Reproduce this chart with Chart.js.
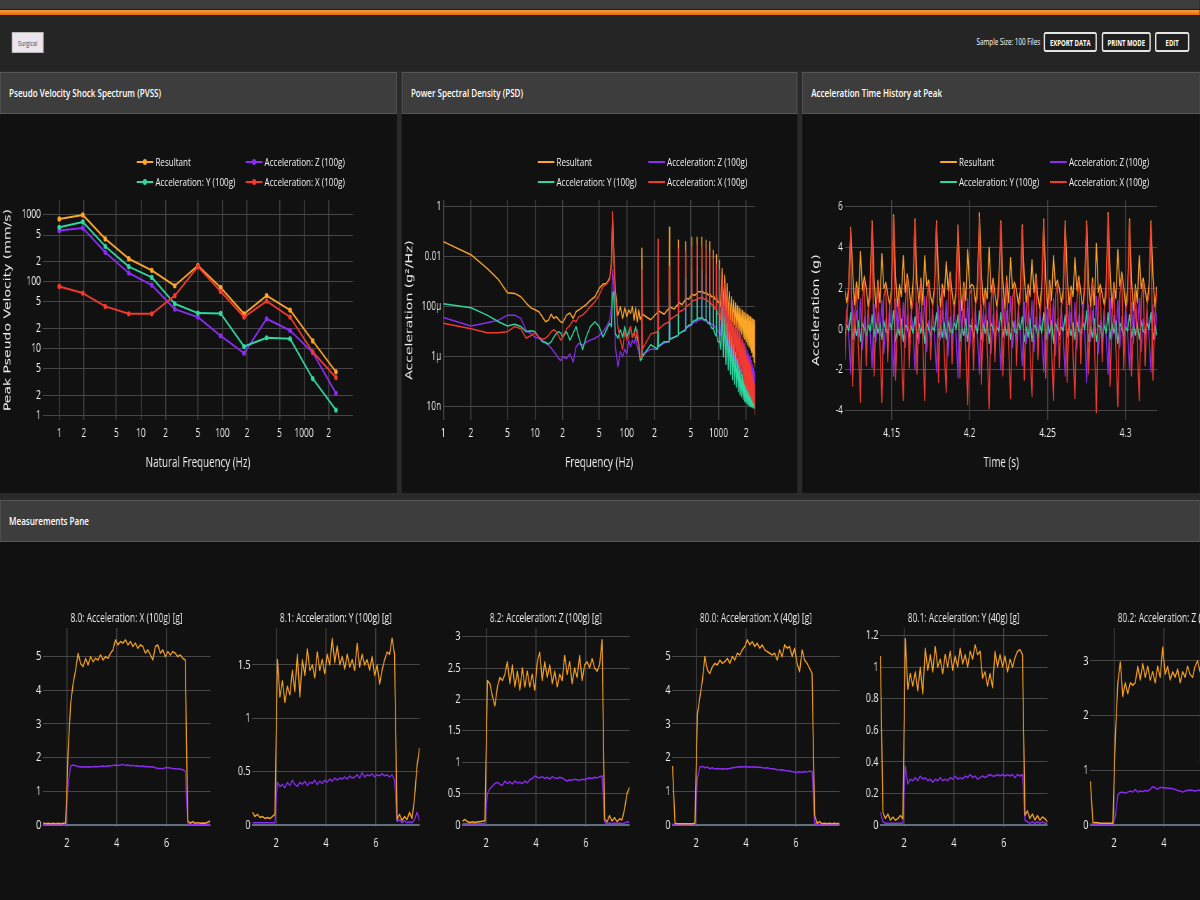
<!DOCTYPE html>
<html><head><meta charset="utf-8">
<script src="https://cdn.jsdelivr.net/npm/chart.js@4.4.1/dist/chart.umd.min.js"></script>
<style>
html,body{margin:0;padding:0;width:1200px;height:900px;overflow:hidden;background:#2a2a2a;}
#wrap{position:absolute;left:0;top:0;width:1714px;height:900px;transform:scaleX(0.7);transform-origin:0 0;overflow:hidden;background:#2a2a2a;font-family:'Open Sans',sans-serif;color:#fff;}
.a{position:absolute;}
.ph{position:absolute;top:72px;height:42px;background:#3d3d3d;border:1px solid #575757;box-sizing:border-box;font-size:11.5px;font-weight:600;line-height:40px;padding-left:12px;white-space:nowrap;}
.pb{position:absolute;top:114px;height:379px;background:#111;}
.btn{position:absolute;top:32px;height:20px;border:2px solid #e4e4e4;border-radius:3px;box-sizing:border-box;background:#1f1f1f;color:#fff;font-size:8.5px;font-weight:700;display:flex;align-items:center;justify-content:center;}
.lg{position:absolute;height:2px;width:24px;}
.lt{position:absolute;font-size:11.5px;color:#f2f2f2;white-space:nowrap;line-height:16px;}
.dot{position:absolute;width:6px;height:6px;border-radius:50%;left:9px;top:-2px;}
canvas{position:absolute;}
</style></head>
<body><div id="wrap">
<div class="a" style="left:0;top:0;width:1714px;height:9px;background:#3c3c3c"></div>
<div class="a" style="left:0;top:9px;width:1714px;height:1px;background:#1a1a1a"></div>
<div class="a" style="left:0;top:10px;width:1714px;height:5px;background:linear-gradient(#f6a040,#e2690f)"></div>
<div class="a" style="left:0;top:15px;width:1714px;height:56px;background:#252525"></div>
<div class="a" style="left:17px;top:32px;width:45px;height:21px;background:#ece5ee;border:1px solid #b9b9b9;box-sizing:border-box;color:#444;font-size:7.5px;display:flex;align-items:center;justify-content:center">Surgical</div>
<div class="a" style="right:228px;top:32px;height:20px;line-height:20px;font-size:9px;color:#fff;white-space:nowrap">Sample Size: 100 Files</div>
<div class="btn" style="left:1491px;width:76px">EXPORT DATA</div>
<div class="btn" style="left:1574px;width:70px">PRINT MODE</div>
<div class="btn" style="left:1650px;width:49px">EDIT</div>

<div class="ph" style="left:0;width:567px">Pseudo Velocity Shock Spectrum (PVSS)</div>
<div class="ph" style="left:574px;width:565px">Power Spectral Density (PSD)</div>
<div class="ph" style="left:1146px;width:568px">Acceleration Time History at Peak</div>
<div class="pb" id="b0" style="left:0;width:567px"><canvas id="c0" width="567" height="379" style="left:0;top:0"></canvas></div>
<div class="pb" id="b1" style="left:574px;width:565px"><canvas id="c1" width="565" height="379" style="left:0;top:0"></canvas></div>
<div class="pb" id="b2" style="left:1146px;width:568px"><canvas id="c2" width="568" height="379" style="left:0;top:0"></canvas></div>

<div class="ph" style="left:0;top:500px;width:1714px">Measurements Pane</div>
<div class="a" id="mb" style="left:0;top:542px;width:1714px;height:358px;background:#111"></div>
</div>
<script>
// ---------- DATA ----------
const seriesNames = ['Resultant', 'Acceleration: Z (100g)', 'Acceleration: Y (100g)', 'Acceleration: X (100g)'];
const seriesColors = ['#fda628', '#8c2cf5', '#2ed8a0', '#f23a2f'];

// PVSS
const pvssFreq = [1, 1.94, 3.66, 7.1, 13.6, 26, 50, 95, 184, 348, 674, 1278, 2460];
const pvssResultant = [871, 1000, 437, 221, 148, 87, 174, 82, 33, 62, 37.6, 13, 4.47];
const pvssZ = [582, 638, 275, 135, 89, 38.9, 29.5, 15.5, 8.5, 27.9, 18.6, 8.7, 2.14];
const pvssY = [653, 785, 339, 168, 116, 46.8, 33.9, 33.5, 10.7, 14.5, 14, 3.55, 1.2];
const pvssX = [85, 67.6, 42.7, 33.1, 33.1, 61.7, 168, 71.6, 29.5, 51.3, 29.5, 8.9, 3.67];
const logXTicks = [1, 2, 5, 10, 20, 50, 100, 200, 500, 1000, 2000];
const logXTickLabels = ['1', '2', '5', '10', '2', '5', '100', '2', '5', '1000', '2'];
const pvssYTicks = [1, 2, 5, 10, 20, 50, 100, 200, 500, 1000];
const pvssYTickLabels = ['1', '2', '5', '10', '2', '5', '100', '2', '5', '1000'];

// PSD
const psdFreq = [1,2,3,4,5,6,7,8,9,10,11,12,13,14,15,16,17,18,19,20,22,24,26,28,30,33,36,40,45,50,55,60,65,68,70,72,75,80,85,90,95,100,105,110,115,120,125,130,135,140,
144,146,148,182,217,219,221,255,290,292,294,328,363,365,367,401,436,438,440,474,509,511,513,547,582,584,586,620,655,657,659,693,728,730,732,766,801,803,805,839,874,876,878,912,947,949,951,985,1020,1022,1024,1058,
1095,1131,1168,1204,1241,1277,1314,1350,1387,1423,1460,1496,1533,1569,1606,1642,1679,1715,1752,1788,1825,1861,1898,1934,1971,2007,2044,2080,2117,2153,2190,2226,2263,2299,2336,2372,2409,2445,2482,2500];
const psdResultant = [4e-2,1.2e-2,3.4e-3,1.2e-3,3.6e-4,3.4e-4,2.5e-4,1.4e-4,9e-5,7.5e-5,6.3e-5,4e-5,2.5e-5,2.9e-5,5e-5,3.4e-5,4e-5,3.1e-5,2.5e-5,2.3e-5,4.6e-5,5.6e-5,3.4e-5,6.3e-5,7.5e-5,9.6e-5,1.2e-4,1.8e-4,2.5e-4,5.4e-4,8e-4,8.5e-4,1.4e-3,5.4e-3,0.6,1.8e-2,4.6e-4,4.6e-5,1e-4,3.4e-5,9e-5,4e-5,7.5e-5,5.4e-5,1e-4,2.9e-5,9e-5,2.5e-5,7.5e-5,3e-5,
4e-5,2.2e-2,5e-5,3e-5,6e-5,3e-4,7e-5,5e-5,9e-5,0.15,1e-4,8e-5,1.3e-4,4.5e-2,1.5e-4,1.2e-4,2e-4,4e-2,2.2e-4,2e-4,3e-4,6e-2,3.2e-4,2.8e-4,3.5e-4,6e-2,4e-4,4e-4,4e-4,6e-2,4.5e-4,3.5e-4,3.5e-4,4.5e-2,4e-4,3e-4,3e-4,4e-2,3.5e-4,2.5e-4,2.5e-4,1.8e-2,3e-4,2e-4,2e-4,1.2e-2,2.5e-4,1.5e-4,1.5e-4,7e-3,1.8e-4,1e-4,
3.4e-3,8e-5,1.8e-3,6e-5,8.5e-4,4e-5,4e-4,3e-5,2.5e-4,2.5e-5,1.8e-4,2e-5,1.4e-4,1.5e-5,1.1e-4,1.2e-5,9e-5,1e-5,8e-5,8e-6,7e-5,6e-6,6e-5,5e-6,5.5e-5,4e-6,5e-5,3e-6,4.5e-5,2.5e-6,4e-5,2e-6,3.6e-5,1.5e-6,3.3e-5,1e-6,3e-5,6e-7,2.8e-5,4e-7];
const psdZ = [3.7e-5,1.7e-5,2.3e-5,2.9e-5,4.6e-5,4.6e-5,3.4e-5,1.1e-5,8.5e-6,6e-6,5.5e-6,4.6e-6,3.4e-6,2.9e-6,2.2e-6,1.6e-6,1.2e-6,8.5e-7,7e-7,1e-6,8.5e-7,1.3e-6,6e-7,2.5e-6,3.4e-6,2.9e-6,3.8e-6,4.6e-6,5.5e-6,7e-6,1e-5,1.6e-5,2.9e-5,1e-4,3e-3,1e-3,2.5e-6,4e-7,1.6e-6,1e-6,2e-6,1.3e-6,4.6e-6,2.5e-6,4.6e-6,3.4e-6,5.5e-6,2.5e-6,1.6e-6,1e-6,
1e-6,3e-4,1.2e-6,2e-6,2e-6,1e-4,2.5e-6,3.5e-6,4e-6,2e-4,5e-6,6e-6,7e-6,1e-3,8e-6,1e-5,1.1e-5,8e-4,1.3e-5,1.6e-5,1.8e-5,1.5e-3,2e-5,2.4e-5,2.5e-5,2e-3,2.8e-5,3e-5,3e-5,2e-3,3.3e-5,2.8e-5,2.6e-5,1.5e-3,2.8e-5,2.4e-5,2.2e-5,1e-3,2.4e-5,2e-5,1.8e-5,6e-4,2e-5,1.5e-5,1.3e-5,4e-4,1.5e-5,1e-5,9e-6,2.5e-4,1e-5,7e-6,
1.5e-4,4e-6,1e-4,3e-6,7e-5,2e-6,5e-5,1.4e-6,3.5e-5,1e-6,2.5e-5,7e-7,1.8e-5,5e-7,1.3e-5,3.5e-7,1e-5,2.5e-7,7e-6,1.8e-7,5e-6,1.3e-7,3.5e-6,1e-7,2.5e-6,8e-8,1.8e-6,6e-8,1.3e-6,5e-8,1e-6,4e-8,7e-7,3.5e-8,5e-7,3e-8,3.5e-7,2.5e-8,2.5e-7,2e-8];
const psdY = [1.3e-4,9e-5,4.6e-5,2.5e-5,1.7e-5,2e-5,1.6e-5,1e-5,1.1e-5,1e-5,6e-6,4e-6,3.8e-6,3.2e-6,4e-6,6e-6,8.5e-6,1e-5,9e-6,6e-6,1e-5,4.6e-6,8.5e-6,1.6e-5,6e-6,1.9e-6,6e-6,1.6e-5,2.5e-5,1.6e-5,6e-6,1.2e-5,2.2e-5,1.6e-5,3e-4,4e-4,8.5e-6,5.5e-6,1.2e-5,6e-6,1.6e-5,6e-6,1e-5,1.6e-5,6e-6,8.5e-6,1.6e-5,5.5e-6,2.9e-6,7e-7,
8e-7,1e-3,1e-6,3e-6,2e-6,2e-4,2.5e-6,4e-6,4e-6,3e-4,5e-6,6e-6,7e-6,2e-3,8e-6,1e-5,1.2e-5,1.5e-3,1.4e-5,1.8e-5,2e-5,3e-3,2.3e-5,2.8e-5,3e-5,4e-3,3.3e-5,3.5e-5,3.5e-5,3e-3,4e-5,3e-5,3e-5,2e-3,3.2e-5,2.2e-5,2e-5,1.2e-3,2.2e-5,1.4e-5,1.3e-5,6e-4,1.4e-5,8e-6,7e-6,3e-4,8e-6,4e-6,4e-6,1.5e-4,4.5e-6,2e-6,
8e-5,1e-6,4e-5,5e-7,2e-5,3e-7,1e-5,2e-7,6e-6,1.2e-7,3e-6,8e-8,1.5e-6,6e-8,8e-7,4e-8,5e-7,3e-8,3e-7,2.5e-8,2e-7,2e-8,1.3e-7,1.6e-8,9e-8,1.4e-8,7e-8,1.2e-8,5e-8,1.1e-8,4e-8,1e-8,3e-8,1e-8,2.5e-8,9e-9,2e-8,9e-9,1.5e-8,8e-9];
const psdX = [2.2e-5,1.3e-5,9e-6,9e-6,1e-5,1.6e-5,1.3e-5,5.5e-6,7e-6,9e-6,6e-6,5e-6,5.5e-6,7e-6,1e-5,1.2e-5,1e-5,7e-6,4.6e-6,6e-6,1.3e-5,1.8e-5,2.9e-5,2.5e-5,4e-5,4.6e-5,6.3e-5,1e-4,1.6e-4,2.9e-4,6.3e-4,8e-4,1.2e-3,4e-3,0.63,7.4e-3,2.5e-4,1.6e-5,4.6e-6,1.9e-6,1e-5,4.6e-6,6e-6,1.6e-5,6e-6,1e-5,4.6e-6,1.2e-5,3.6e-6,1e-6,
1e-6,3e-3,2e-6,8e-6,1e-5,5e-2,1.2e-5,2e-5,2.5e-5,4e-3,3e-5,4e-5,5e-5,2e-2,6e-5,7e-5,9e-5,1.5e-2,1e-4,1.2e-4,1.4e-4,2.5e-2,1.6e-4,1.8e-4,2e-4,3e-2,2.2e-4,2.2e-4,2.4e-4,2.5e-2,2.6e-4,2e-4,2e-4,2e-2,2.2e-4,1.6e-4,1.6e-4,1.5e-2,1.8e-4,1.2e-4,1.2e-4,8e-3,1.3e-4,8e-5,8e-5,5e-3,9e-5,5e-5,5e-5,3e-3,6e-5,3e-5,
1.5e-3,1.5e-5,8e-4,8e-6,4e-4,5e-6,2e-4,3e-6,1e-4,2e-6,6e-5,1.2e-6,3e-5,8e-7,2e-5,5e-7,1.2e-5,3e-7,8e-6,2e-7,5e-6,1.2e-7,3e-6,8e-8,2e-6,5e-8,1.2e-6,4e-8,8e-7,3e-8,5e-7,2.5e-8,3e-7,2e-8,2e-7,1.5e-8,1.2e-7,1.2e-8,8e-8,5e-9];
const psdYTicks = [1e-8, 1e-6, 1e-4, 1e-2, 1];
const psdYTickLabels = ['10n', '1μ', '100μ', '0.01', '1'];

// Acceleration time history (sample clock + values)
const timeStart = 4.12, timeStep = 0.00125;
const timeResultant = [1.9,1.3,2.1,
5.0,2.8,1.2,2.3,1.5,3.8,1.9,2.6,2.0,1.1,2.2, 5.3,2.4,1.0,2.4,1.3,3.7,2.0,2.3,1.7,1.2,2.0, 5.6,2.6,1.1,2.2,1.6,3.6,1.8,2.7,2.0,1.0,2.3,
5.4,2.3,1.3,2.5,1.2,3.6,2.1,2.4,1.6,1.2,2.1, 5.3,2.7,1.1,2.2,1.6,3.3,1.9,2.8,1.8,1.0,2.0, 5.1,2.5,0.9,2.3,1.4,3.9,2.0,2.2,2.1,1.3,2.2,
5.7,2.8,1.2,2.0,1.5,4.0,1.8,2.5,1.7,1.1,2.4, 5.3,2.4,1.0,2.6,1.3,3.5,2.0,2.3,1.9,1.2,1.9, 5.1,2.6,1.3,2.2,1.6,3.4,1.8,2.7,1.6,1.0,2.2,
5.4,2.5,1.0,2.4,1.4,3.6,2.1,2.4,2.0,1.3,2.0, 5.3,2.7,1.2,2.1,1.6,3.5,1.9,2.6,1.8,1.0,2.3, 5.3,2.3,1.1,2.5,1.2,4.2,1.8,2.2,1.7,1.2,2.1,
5.7,2.9,1.0,2.3,1.5,3.9,2.1,2.8,2.1,1.1,1.9, 5.4,2.4,0.9,2.2,1.3,3.6,2.0,2.5,1.9,1.3,2.2, 5.3,2.6,1.1,2.1];
const timeZ = [-0.6,1.0,-0.3,
-2.2,1.4,-0.5,0.9,-0.4,1.5,-1.0,0.6,-0.7,1.0,-0.2, -1.9,1.2,-0.6,0.8,-0.3,1.4,-1.2,0.5,-0.6,1.1,-0.3, -2.3,1.5,-0.4,1.0,-0.5,1.3,-0.9,0.7,-0.8,0.9,-0.1,
-2.0,1.3,-0.7,0.8,-0.2,1.6,-1.1,0.4,-0.5,1.0,-0.3, -2.1,1.1,-0.5,0.9,-0.4,1.4,-1.3,0.6,-0.7,1.2,-0.2, -2.4,1.4,-0.3,1.0,-0.6,1.5,-1.0,0.5,-0.6,0.9,-0.4,
-2.2,1.2,-0.6,0.7,-0.3,1.3,-1.2,0.7,-0.8,1.0,-0.1, -2.0,1.5,-0.4,0.9,-0.5,1.6,-0.9,0.4,-0.6,1.1,-0.3, -1.8,1.3,-0.7,0.8,-0.2,1.4,-1.1,0.6,-0.7,0.9,-0.2,
-2.1,1.1,-0.5,1.0,-0.4,1.5,-1.3,0.5,-0.5,1.0,-0.4, -2.3,1.4,-0.3,0.8,-0.6,1.3,-1.0,0.7,-0.8,1.2,-0.1, -2.6,1.2,-0.6,0.9,-0.3,1.6,-1.2,0.4,-0.6,0.9,-0.3,
-2.2,1.5,-0.4,0.7,-0.5,1.4,-0.9,0.6,-0.7,1.1,-0.2, -2.0,1.3,-0.7,1.0,-0.2,1.5,-1.1,0.5,-0.5,1.0,-0.4, -2.1,1.2,-0.5,0.8];
const timeY = [-0.3,0.2,-0.1,
0.8,-0.5,0.2,-0.3,0.4,-0.6,0.3,0.0,-0.3,0.2,-0.1, 0.7,-0.4,0.3,-0.2,0.3,-0.5,0.4,-0.1,-0.2,0.3,0.0, 0.9,-0.6,0.1,-0.3,0.5,-0.6,0.2,0.1,-0.4,0.2,-0.2,
0.6,-0.5,0.3,-0.2,0.4,-0.7,0.3,0.0,-0.3,0.1,-0.1, 0.8,-0.4,0.2,-0.4,0.3,-0.5,0.4,-0.1,-0.2,0.3,0.0, 0.7,-0.6,0.1,-0.3,0.5,-0.6,0.2,0.1,-0.4,0.2,-0.2,
0.9,-0.5,0.3,-0.2,0.4,-0.7,0.3,0.0,-0.3,0.1,-0.1, 0.8,-0.4,0.2,-0.3,0.3,-0.5,0.4,-0.1,-0.2,0.3,0.0, 0.6,-0.6,0.1,-0.4,0.5,-0.6,0.2,0.1,-0.4,0.2,-0.2,
0.8,-0.5,0.3,-0.2,0.4,-0.7,0.3,0.0,-0.3,0.1,-0.1, 0.7,-0.4,0.2,-0.3,0.3,-0.5,0.4,-0.1,-0.2,0.3,0.0, 0.9,-0.6,0.1,-0.4,0.5,-0.6,0.2,0.1,-0.4,0.2,-0.2,
0.8,-0.5,0.3,-0.2,0.4,-0.7,0.3,0.0,-0.3,0.1,-0.1, 0.7,-0.4,0.2,-0.3,0.3,-0.5,0.4,-0.1,-0.2,0.3,0.0, 0.8,-0.5,0.2,-0.3];
const timeX = [-1.5,0.8,1.7,
4.9,-2.8,0.5,2.0,-1.0,-3.6,1.3,2.4,-1.8,0.9,1.5, 5.2,-2.3,0.7,2.2,-0.8,-3.6,1.6,2.1,-1.6,1.1,1.7, 5.5,-2.5,0.4,1.9,-1.1,-3.5,1.2,2.5,-1.9,0.7,1.4,
5.3,-2.2,0.8,2.3,-0.7,-3.5,1.5,2.2,-1.5,1.0,1.8, 5.2,-2.6,0.6,2.0,-1.2,-3.1,1.4,2.6,-1.7,0.8,1.6, 5.0,-2.4,0.3,2.1,-0.9,-3.7,1.7,2.0,-2.0,1.2,1.5,
5.5,-2.7,0.7,1.8,-1.0,-3.9,1.3,2.3,-1.6,0.9,1.9, 5.2,-2.3,0.5,2.4,-0.8,-3.4,1.5,2.1,-1.8,1.0,1.4, 5.0,-2.5,0.8,2.0,-1.1,-3.3,1.2,2.5,-1.5,0.7,1.7,
5.3,-2.4,0.4,2.2,-0.9,-3.5,1.6,2.2,-1.9,1.1,1.5, 5.2,-2.6,0.6,1.9,-1.2,-3.4,1.4,2.4,-1.7,0.8,1.8, 5.2,-2.2,0.7,2.3,-0.7,-4.1,1.3,2.0,-1.6,1.0,1.6,
5.6,-2.8,0.5,2.1,-1.0,-3.8,1.7,2.6,-2.0,0.9,1.4, 5.3,-2.3,0.3,2.0,-0.8,-3.5,1.5,2.3,-1.8,1.2,1.7, 5.2,-2.5,0.6,1.9];
const timeXTicks = [4.15, 4.2, 4.25, 4.3];
const timeYTicks = [-4, -2, 0, 2, 4, 6];

// Measurements pane
const measX = [1.05,1.15,1.25,1.35,1.45,1.55,1.65,1.75,1.85,1.95,2.05,2.15,2.25,2.35,2.45,2.55,2.65,2.75,2.85,2.95,3.05,3.15,3.25,3.35,3.45,3.55,3.65,3.75,3.85,3.95,4.05,4.15,4.25,4.35,4.45,4.55,4.65,4.75,4.85,4.95,5.05,5.15,5.25,5.35,5.45,5.55,5.65,5.75,5.85,5.95,6.05,6.15,6.25,6.35,6.45,6.55,6.65,6.75,6.85,6.95,7.05,7.15,7.25,7.35,7.45,7.55,7.65,7.75];
const measTitles = ['8.0: Acceleration: X (100g) [g]', '8.1: Acceleration: Y (100g) [g]', '8.2: Acceleration: Z (100g) [g]', '80.0: Acceleration: X (40g) [g]', '80.1: Acceleration: Y (40g) [g]', '80.2: Acceleration: Z (40g) [g]'];
const meas1Res = [0.06,0.04,0.05,0.04,0.05,0.04,0.05,0.04,0.05,0.06, 2.2,3.6,4.2,4.6,5.1,4.8,4.7,4.95,4.75,5.0, 4.85,4.95,4.9,5.05,4.9,5.0,4.95,5.1,5.2,5.5, 5.35,5.45,5.4,5.5,5.35,5.45,5.3,5.4,5.25,5.35, 5.3,5.1,5.2,5.05,4.9,5.3,5.35,5.1,5.2,5.0, 5.15,5.05,5.15,5.1,5.0,5.05,4.95,4.9,0.12,0.05, 0.1,0.05,0.07,0.05,0.06,0.05,0.08,0.12];
const meas1Z = [0.02,0.02,0.02,0.02,0.02,0.02,0.02,0.02,0.02,0.02, 1.2,1.75,1.78,1.76,1.74,1.72,1.73,1.72,1.73,1.72, 1.73,1.74,1.73,1.74,1.75,1.74,1.76,1.75,1.77,1.78, 1.77,1.78,1.8,1.77,1.78,1.76,1.77,1.75,1.76,1.74, 1.75,1.73,1.74,1.72,1.73,1.7,1.68,1.68,1.67,1.7, 1.71,1.69,1.68,1.67,1.66,1.66,1.64,1.6,0.03,0.02, 0.02,0.02,0.02,0.02,0.02,0.02,0.02,0.02];
const meas2Res = [0.12,0.08,0.1,0.07,0.08,0.06,0.07,0.06,0.08,0.1, 1.55,1.2,1.35,1.15,1.3,1.22,1.45,1.25,1.6,1.2, 1.55,1.4,1.65,1.45,1.5,1.38,1.62,1.45,1.55,1.42, 1.6,1.5,1.75,1.52,1.68,1.5,1.58,1.46,1.6,1.48, 1.55,1.45,1.7,1.48,1.6,1.5,1.55,1.45,1.58,1.4, 1.5,1.32,1.45,1.55,1.62,1.6,1.75,1.6,0.05,0.1, 0.04,0.08,0.05,0.12,0.06,0.25,0.55,0.72];
const meas2Z = [0.02,0.02,0.02,0.02,0.02,0.02,0.02,0.02,0.02,0.02, 0.4,0.36,0.38,0.35,0.4,0.37,0.42,0.38,0.36,0.4, 0.38,0.41,0.37,0.4,0.39,0.42,0.38,0.41,0.39,0.42, 0.4,0.43,0.41,0.44,0.42,0.44,0.43,0.45,0.43,0.46, 0.44,0.45,0.47,0.44,0.49,0.45,0.47,0.46,0.48,0.45, 0.47,0.46,0.48,0.46,0.47,0.45,0.47,0.42,0.03,0.05, 0.02,0.04,0.02,0.03,0.02,0.05,0.12,0.04];
const meas3Res = [0.06,0.09,0.05,0.04,0.05,0.04,0.05,0.05,0.06,0.07, 2.3,2.25,2.05,1.9,2.2,2.35,2.3,2.4,2.6,2.25, 2.55,2.2,2.45,2.15,2.5,2.2,2.45,2.2,2.4,2.15, 2.6,2.75,2.3,2.6,2.35,2.55,2.25,2.45,2.2,2.4, 2.3,2.7,2.4,2.6,2.25,2.5,2.35,2.7,2.3,2.55, 2.6,2.5,2.65,2.5,2.45,2.55,2.95,0.1,0.05,0.15, 0.06,0.12,0.05,0.1,0.08,0.25,0.5,0.6];
const meas3Z = [0.02,0.02,0.02,0.02,0.02,0.02,0.02,0.02,0.02,0.02, 0.5,0.58,0.62,0.66,0.68,0.65,0.63,0.7,0.66,0.69, 0.65,0.7,0.67,0.68,0.66,0.7,0.67,0.72,0.74,0.78, 0.76,0.75,0.77,0.74,0.76,0.73,0.77,0.75,0.74,0.76, 0.75,0.72,0.7,0.72,0.71,0.73,0.72,0.71,0.73,0.72, 0.74,0.75,0.74,0.76,0.75,0.77,0.78,0.05,0.02,0.03, 0.02,0.03,0.02,0.03,0.02,0.03,0.05,0.04];
const meas4Res = [1.75,0.05,0.04,0.04,0.04,0.04,0.04,0.04,0.04,0.05, 3.3,3.8,4.3,5.0,4.6,4.5,4.7,4.8,4.75,4.9, 4.8,4.85,4.95,4.8,5.0,4.9,5.1,5.05,5.2,5.3, 5.5,5.35,5.45,5.3,5.4,5.25,5.35,5.2,5.15,5.1, 5.05,5.1,4.9,5.2,5.0,5.35,5.25,5.3,5.0,5.25, 4.8,4.55,5.2,4.9,4.8,4.65,4.5,0.3,0.05,0.1, 0.04,0.05,0.04,0.05,0.04,0.05,0.04,0.05];
const meas4Z = [0.02,0.02,0.02,0.02,0.02,0.02,0.02,0.02,0.02,0.02, 1.4,1.72,1.74,1.7,1.72,1.67,1.7,1.66,1.68,1.66, 1.67,1.66,1.67,1.68,1.7,1.71,1.72,1.73,1.72,1.74, 1.72,1.73,1.72,1.73,1.71,1.72,1.7,1.69,1.7,1.68, 1.67,1.66,1.64,1.63,1.64,1.62,1.61,1.6,1.58,1.57, 1.56,1.58,1.56,1.59,1.57,1.6,1.58,0.05,0.02,0.02, 0.02,0.02,0.02,0.02,0.02,0.02,0.02,0.02];
const meas5Res = [1.07,0.08,0.04,0.07,0.03,0.05,0.03,0.04,0.06,0.04, 1.18,0.86,0.96,0.88,0.97,0.85,1.0,0.83,1.12,0.98, 1.08,0.97,1.13,1.0,1.05,0.96,1.08,1.0,1.1,0.98, 1.07,1.0,1.12,1.02,1.08,1.0,1.1,1.05,1.14,1.08, 1.1,0.93,0.97,0.88,0.96,0.87,1.1,1.0,1.08,1.0, 1.07,0.97,1.05,1.0,1.06,1.1,1.11,1.08,0.06,0.09, 0.04,0.07,0.03,0.06,0.03,0.05,0.04,0.02];
const meas5Z = [0.08,0.02,0.01,0.01,0.01,0.01,0.01,0.01,0.01,0.01, 0.37,0.26,0.29,0.28,0.3,0.28,0.31,0.29,0.3,0.28, 0.29,0.27,0.29,0.28,0.3,0.28,0.29,0.28,0.3,0.29, 0.31,0.29,0.3,0.29,0.31,0.3,0.32,0.3,0.31,0.29, 0.3,0.31,0.3,0.31,0.32,0.31,0.31,0.32,0.31,0.32, 0.31,0.32,0.31,0.32,0.3,0.32,0.31,0.32,0.03,0.02, 0.01,0.02,0.01,0.02,0.01,0.02,0.01,0.01];
const meas6Res = [0.8,0.05,0.04,0.04,0.03,0.03,0.03,0.03,0.03,0.03, 1.6,2.6,2.98,2.35,2.6,2.4,2.6,2.55,2.6,2.9, 2.65,2.95,2.7,2.9,2.65,2.8,2.6,2.9,2.7,3.25, 2.75,2.9,2.65,2.8,2.7,2.85,2.6,2.8,2.7,2.9, 2.75,2.7,2.9,3.0,2.8,2.9,2.75,2.85,2.95,2.8, 2.9,2.75,2.85,2.9,2.8,2.95,2.85,2.9,0.05,0.04, 0.05,0.04,0.05,0.04,0.05,0.04,0.05,0.04];
const meas6Z = [0.02,0.02,0.02,0.02,0.02,0.02,0.02,0.02,0.02,0.02, 0.15,0.55,0.6,0.6,0.58,0.6,0.62,0.6,0.65,0.6, 0.62,0.61,0.63,0.62,0.65,0.7,0.68,0.65,0.69,0.68, 0.68,0.67,0.67,0.66,0.65,0.63,0.62,0.6,0.62,0.63, 0.64,0.63,0.62,0.63,0.64,0.63,0.64,0.63,0.65,0.64, 0.65,0.64,0.66,0.65,0.66,0.65,0.66,0.64,0.03,0.02, 0.02,0.02,0.02,0.02,0.02,0.02,0.02,0.02];
const measRes = [meas1Res, meas2Res, meas3Res, meas4Res, meas5Res, meas6Res];
const measZ = [meas1Z, meas2Z, meas3Z, meas4Z, meas5Z, meas6Z];
const measYTicks = [[0,1,2,3,4,5],[0,0.5,1,1.5],[0,0.5,1,1.5,2,2.5,3],[0,1,2,3,4,5],[0,0.2,0.4,0.6,0.8,1,1.2],[0,1,2,3]];
const measXTicks = [2, 4, 6];

// ---------- STYLE / LAYOUT ----------
const TXT = '#f0f0f0', GRID = '#464646';
Chart.defaults.font.family = "'Open Sans', sans-serif";
const YTITLE_FONT = { family: "'DejaVu Sans', Verdana, sans-serif", size: 14 };
const measYRange = [[-0.06,5.85],[-0.019,1.846],[-0.032,3.137],[-0.06,5.85],[-0.013,1.248],[-0.037,3.6]];
const measPlotLeft = [61.4, 359.6, 659.6, 959.6, 1257.1, 1557.1];

function pts(xs, ys) { return ys.map((y, i) => ({ x: xs[i], y })); }
function fixTicks(list) { return s => { s.ticks = list.map(v => ({ value: v })); }; }

function mainChart(id, o) {
  return new Chart(document.getElementById(id), {
    type: 'line',
    data: { datasets: o.datasets },
    options: {
      responsive: false, animation: false, events: [],
      layout: { padding: { left: 0, right: o.padRight, top: 86, bottom: 22 } },
      plugins: { legend: { display: false }, tooltip: { enabled: false } },
      elements: { line: { borderJoinStyle: 'round', tension: 0 } },
      scales: {
        x: { type: o.xType, min: o.xMin, max: o.xMax, bounds: 'data',
          afterBuildTicks: fixTicks(o.xTicks), afterFit: s => { s.height = 51; },
          ticks: { color: TXT, font: { size: 12 }, padding: 6, autoSkip: false, maxRotation: 0, callback: (v, i) => o.xLabels[i] },
          grid: { color: GRID, lineWidth: 1.4, drawTicks: false }, border: { display: false },
          title: { display: true, text: o.xTitle, color: TXT, font: { size: 14 }, padding: 0 } },
        y: { type: o.yType, min: o.yMin, max: o.yMax, bounds: 'data',
          afterBuildTicks: fixTicks(o.yTicks), afterFit: s => { s.width = o.yWidth; },
          ticks: { color: TXT, font: { size: 12 }, padding: 3, autoSkip: false, callback: (v, i) => o.yLabels[i] },
          grid: { color: GRID, lineWidth: 1, drawTicks: false }, border: { display: false },
          title: { display: true, text: o.yTitle, color: TXT, font: YTITLE_FONT, padding: { top: o.yTitlePad, bottom: 0 } } }
      }
    }
  });
}
function ds(label, data, color, width, radius) {
  return { label, data, borderColor: color, backgroundColor: color, borderWidth: width, pointRadius: radius, pointBorderWidth: 0, pointHoverRadius: 0, fill: false };
}

// PVSS (X drawn on top, Resultant at bottom)
mainChart('c0', {
  datasets: [ds(seriesNames[3], pts(pvssFreq, pvssX), seriesColors[3], 2, 2.6), ds(seriesNames[2], pts(pvssFreq, pvssY), seriesColors[2], 2, 2.6),
             ds(seriesNames[1], pts(pvssFreq, pvssZ), seriesColors[1], 2, 2.6), ds(seriesNames[0], pts(pvssFreq, pvssResultant), seriesColors[0], 2, 2.6)],
  padRight: 62.7, yWidth: 61.4, yTitlePad: 3,
  xType: 'logarithmic', xMin: 0.631, xMax: 3985, xTicks: logXTicks, xLabels: logXTickLabels, xTitle: 'Natural Frequency (Hz)',
  yType: 'logarithmic', yMin: 0.851, yMax: 1671, yTicks: pvssYTicks, yLabels: pvssYTickLabels, yTitle: 'Peak Pseudo Velocity (mm/s)'
});
// PSD
mainChart('c1', {
  datasets: [ds(seriesNames[3], pts(psdFreq, psdX), seriesColors[3], 1.5, 0), ds(seriesNames[2], pts(psdFreq, psdY), seriesColors[2], 1.5, 0),
             ds(seriesNames[1], pts(psdFreq, psdZ), seriesColors[1], 1.5, 0), ds(seriesNames[0], pts(psdFreq, psdResultant), seriesColors[0], 1.5, 0)],
  padRight: 60.4, yWidth: 59.3, yTitlePad: 3,
  xType: 'logarithmic', xMin: 1, xMax: 2500, xTicks: logXTicks, xLabels: logXTickLabels, xTitle: 'Frequency (Hz)',
  yType: 'logarithmic', yMin: 2.94e-9, yMax: 1.85, yTicks: psdYTicks, yLabels: psdYTickLabels, yTitle: 'Acceleration (g²/Hz)'
});
// Time history
const timeAxis = timeResultant.map((_, i) => +(timeStart + i * timeStep).toFixed(5));
mainChart('c2', {
  datasets: [ds(seriesNames[3], pts(timeAxis, timeX), seriesColors[3], 1.5, 0), ds(seriesNames[2], pts(timeAxis, timeY), seriesColors[2], 1.5, 0),
             ds(seriesNames[1], pts(timeAxis, timeZ), seriesColors[1], 1.5, 0), ds(seriesNames[0], pts(timeAxis, timeResultant), seriesColors[0], 1.5, 0)],
  padRight: 60.7, yWidth: 61.1, yTitlePad: 11.6,
  xType: 'linear', xMin: 4.1201, xMax: 4.3203, xTicks: timeXTicks, xLabels: timeXTicks.map(String), xTitle: 'Time (s)',
  yType: 'linear', yMin: -4.456, yMax: 6.33, yTicks: timeYTicks, yLabels: timeYTicks.map(String), yTitle: 'Acceleration (g)'
});

// Legends (HTML, real text)
function legend(bodyId, x1, x2, markers) {
  const body = document.getElementById(bodyId);
  const pos = [[x1, 48], [x2, 48], [x1, 68.3], [x2, 68.3]];
  [0, 1, 2, 3].forEach((k, j) => {
    const [x, y] = pos[j];
    const ln = document.createElement('div');
    ln.className = 'lg'; ln.style.left = x + 'px'; ln.style.top = (y - 1) + 'px'; ln.style.background = seriesColors[k];
    if (markers) { const d = document.createElement('div'); d.className = 'dot'; d.style.background = seriesColors[k]; ln.appendChild(d); }
    body.appendChild(ln);
    const t = document.createElement('div');
    t.className = 'lt'; t.style.left = (x + 27) + 'px'; t.style.top = (y - 8) + 'px'; t.textContent = seriesNames[k];
    body.appendChild(t);
  });
}
legend('b0', 195, 351, true);
legend('b1', 194, 352, false);
legend('b2', 197, 354, false);

// Measurement charts
const wrap = document.getElementById('wrap');
measTitles.forEach((title, i) => {
  const cv = document.createElement('canvas');
  cv.width = 299; cv.height = 310;
  cv.style.left = (measPlotLeft[i] - 57) + 'px'; cv.style.top = '590px';
  wrap.appendChild(cv);
  const yt = measYTicks[i];
  new Chart(cv, {
    type: 'line',
    data: { datasets: [
      ds('Peak', pts(measX, measRes[i]), '#fca522', 1.5, 0),
      ds('Mean', pts(measX, measZ[i]), '#8a2cf2', 1.5, 0) ] },
    options: {
      responsive: false, animation: false, events: [],
      layout: { padding: { left: 0, right: 2.4, top: 21.8, bottom: 43 } },
      plugins: { legend: { display: false }, tooltip: { enabled: false },
        title: { display: true, text: title, fullSize: false, color: TXT, font: { size: 12, weight: 'normal' }, padding: { top: 0, bottom: 1.8 } } },
      elements: { line: { borderJoinStyle: 'round', tension: 0 } },
      scales: {
        x: { type: 'linear', min: 1.03, max: 7.76, bounds: 'data',
          afterBuildTicks: fixTicks(measXTicks), afterFit: s => { s.height = 30; },
          ticks: { color: TXT, font: { size: 13 }, padding: 8, autoSkip: false, maxRotation: 0, callback: v => String(v) },
          grid: { color: GRID, lineWidth: 1.4, drawTicks: false }, border: { display: false } },
        y: { type: 'linear', min: measYRange[i][0], max: measYRange[i][1], bounds: 'data',
          afterBuildTicks: fixTicks(yt), afterFit: s => { s.width = 57; },
          ticks: { color: TXT, font: { size: 13 }, padding: 2, autoSkip: false, callback: (v, k) => String(yt[k]) },
          grid: { color: c => (c.tick && c.tick.value === 0 ? '#607080' : GRID), lineWidth: c => (c.tick && c.tick.value === 0 ? 2 : 1), drawTicks: false },
          border: { display: false } }
      }
    }
  });
});
</script>
</body></html>
